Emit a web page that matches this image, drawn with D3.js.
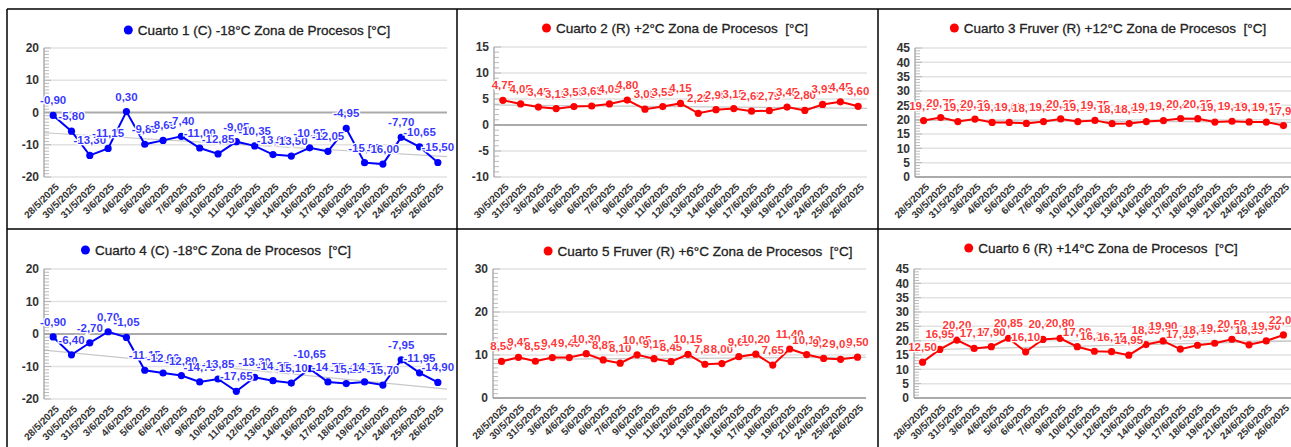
<!DOCTYPE html>
<html>
<head>
<meta charset="utf-8">
<script src="https://cdn.jsdelivr.net/npm/d3@7"></script>
<style>
body { margin: 0; background: #fff; }
svg { display: block; font-family: "Liberation Sans", Arial, sans-serif; }
</style>
</head>
<body>
<svg id="chart" width="1291" height="447"></svg>
<script>
// fechas de medicion
var dates22 = ["28/5/2025", "30/5/2025", "31/5/2025", "3/6/2025", "4/6/2025", "5/6/2025", "6/6/2025",
    "7/6/2025", "9/6/2025", "10/6/2025", "11/6/2025", "12/6/2025", "13/6/2025", "14/6/2025", "16/6/2025",
    "17/6/2025", "18/6/2025", "19/6/2025", "21/6/2025", "24/6/2025", "25/6/2025", "26/6/2025"];
var dates21 = ["30/5/2025", "31/5/2025", "3/6/2025", "4/6/2025", "5/6/2025", "6/6/2025", "7/6/2025",
    "9/6/2025", "10/6/2025", "11/6/2025", "12/6/2025", "13/6/2025", "14/6/2025", "16/6/2025",
    "17/6/2025", "18/6/2025", "19/6/2025", "21/6/2025", "24/6/2025", "25/6/2025", "26/6/2025"];

// temperaturas por cuarto
var cuarto1 = [-0.90, -5.80, -13.30, -11.15, 0.30, -9.85, -8.65, -7.40, -11.00, -12.85, -9.05,
    -10.35, -13.05, -13.50, -10.95, -12.05, -4.95, -15.55, -16.00, -7.70, -10.65, -15.50];
var cuarto2 = [4.75, 4.05, 3.45, 3.15, 3.55, 3.65, 4.05, 4.80, 3.05, 3.55, 4.15,
    2.25, 2.95, 3.15, 2.65, 2.75, 3.45, 2.80, 3.95, 4.45, 3.60];
var cuarto3 = [19.70, 20.75, 19.35, 20.20, 19.05, 19.05, 18.70, 19.35, 20.25, 19.35, 19.75,
    18.60, 18.65, 19.35, 19.70, 20.40, 20.35, 19.15, 19.45, 19.20, 19.15, 17.95];
var cuarto4 = [-0.90, -6.40, -2.70, 0.70, -1.05, -11.15, -12.00, -12.80, -14.75, -13.85, -17.65,
    -13.30, -14.35, -15.10, -10.65, -14.75, -15.25, -14.75, -15.70, -7.95, -11.95, -14.90];
var cuarto5 = [8.50, 9.45, 8.55, 9.40, 9.40, 10.30, 8.85, 8.10, 10.05, 9.15, 8.45,
    10.15, 7.85, 8.00, 9.60, 10.20, 7.65, 11.40, 10.10, 9.20, 9.00, 9.50];
var cuarto6 = [12.50, 16.95, 20.20, 17.30, 17.90, 20.85, 16.10, 20.45, 20.80, 17.90, 16.30,
    16.15, 14.95, 18.65, 19.90, 17.05, 18.40, 19.10, 20.50, 18.55, 19.90, 22.00];

var titles = ["Cuarto 1 (C) -18°C Zona de Procesos [°C]",
    "Cuarto 2 (R) +2°C Zona de Procesos  [°C]",
    "Cuarto 3 Fruver (R) +12°C Zona de Procesos  [°C]",
    "Cuarto 4 (C) -18°C Zona de Procesos  [°C]",
    "Cuarto 5 Fruver (R) +6°C Zona de Procesos  [°C]",
    "Cuarto 6 (R) +14°C Zona de Procesos  [°C]"];
var yDomains = [[-20, 20], [-10, 15], [0, 45], [-20, 20], [0, 30], [0, 45]];
var yStep = [10, 5, 5, 10, 10, 5];

var blue = "#0000ff", red = "#ff0000";

var panels = [
    { dates: dates22, values: cuarto1, color: blue },
    { dates: dates21, values: cuarto2, color: red },
    { dates: dates22, values: cuarto3, color: red },
    { dates: dates22, values: cuarto4, color: blue },
    { dates: dates22, values: cuarto5, color: red },
    { dates: dates22, values: cuarto6, color: red }
];

// posicion de cada grafica en la pagina
var layout = [
    { left: 44, right: 447, top: 48, bottom: 177, titleX: 257, titleY: 30 },
    { left: 494, right: 867, top: 47, bottom: 177, titleX: 675, titleY: 28 },
    { left: 915, right: 1292, top: 48, bottom: 177, titleX: 1108, titleY: 28 },
    { left: 44, right: 447, top: 269, bottom: 399, titleX: 216, titleY: 250 },
    { left: 493, right: 866, top: 269, bottom: 398, titleX: 698, titleY: 251 },
    { left: 914, right: 1292, top: 269, bottom: 398, titleX: 1101, titleY: 248 }
];

var esCO = d3.formatLocale({ decimal: ",", thousands: ".", grouping: [3], currency: ["$", ""], minus: "-" });
var fmt = esCO.format(".2f");

var svg = d3.select("#chart");

// marco de la tabla
var frame = svg.append("g").attr("stroke", "#000").attr("stroke-width", 1.5);
frame.append("line").attr("x1", 7).attr("x2", 1291).attr("y1", 9).attr("y2", 9);
frame.append("line").attr("x1", 7).attr("x2", 1291).attr("y1", 229).attr("y2", 229);
[7, 457, 878].forEach(function (x) {
    frame.append("line").attr("x1", x).attr("x2", x).attr("y1", 9).attr("y2", 447);
});

var drawPanel = function (i) {
    var p = panels[i], L = layout[i];
    var g = svg.append("g");

    var x = d3.scalePoint().domain(p.dates).range([L.left, L.right]).padding(0.5);
    var y = d3.scaleLinear().domain(yDomains[i]).range([L.bottom, L.top]);
    var majors = d3.range(yDomains[i][0], yDomains[i][1] + 0.001, yStep[i]);
    var minors = d3.range(yDomains[i][0], yDomains[i][1] + 0.001, 1);

    // grid
    g.selectAll(".grid").data(majors).enter().append("line")
        .attr("x1", L.left).attr("x2", L.right)
        .attr("y1", function (d) { return y(d); }).attr("y2", function (d) { return y(d); })
        .attr("stroke", function (d) { return d === 0 ? "#aaa" : "#e2e2e2"; })
        .attr("stroke-width", function (d) { return d === 0 ? 2 : 1.5; });

    // tendencia lineal
    var n = p.values.length;
    var mx = d3.mean(p.values, function (v, k) { return k; }), my = d3.mean(p.values);
    var sxy = d3.sum(p.values, function (v, k) { return (k - mx) * (v - my); });
    var sxx = d3.sum(p.values, function (v, k) { return (k - mx) * (k - mx); });
    var slope = sxy / sxx, icpt = my - slope * mx;
    g.append("line")
        .attr("x1", L.left).attr("x2", L.right)
        .attr("y1", y(icpt + slope * (-0.5))).attr("y2", y(icpt + slope * (n - 0.5)))
        .attr("stroke", "#c8c8c8").attr("stroke-width", 1.2);

    // eje y
    g.append("line").attr("x1", L.left).attr("x2", L.left)
        .attr("y1", L.top).attr("y2", L.bottom).attr("stroke", "#999").attr("stroke-width", 1.2);
    g.selectAll(".minor").data(minors).enter().append("line")
        .attr("x1", L.left).attr("x2", function (d) { return L.left + (d % yStep[i] === 0 ? 7 : 5); })
        .attr("y1", function (d) { return y(d); }).attr("y2", function (d) { return y(d); })
        .attr("stroke", "#aaa").attr("stroke-width", 0.8);
    g.selectAll(".ylab").data(majors).enter().append("text")
        .attr("x", L.left - 5).attr("y", function (d) { return y(d); })
        .attr("dy", "0.35em").attr("text-anchor", "end")
        .style("font-size", "12px").style("font-weight", "bold").style("fill", "#333")
        .text(function (d) { return d; });

    // eje x
    g.selectAll(".xlab").data(p.dates).enter().append("text")
        .attr("transform", function (d) { return "translate(" + (x(d) + 4) + "," + (L.bottom + 8) + ") rotate(-45)"; })
        .attr("text-anchor", "end").attr("dy", "0.35em")
        .style("font-size", "10px").style("font-weight", "bold").style("fill", "#333")
        .text(function (d) { return d; });

    // serie
    var line = d3.line()
        .x(function (v, k) { return x(p.dates[k]); })
        .y(function (v) { return y(v); });
    g.append("path").datum(p.values).attr("d", line)
        .attr("fill", "none").attr("stroke", p.color).attr("stroke-width", 2);
    g.selectAll(".pt").data(p.values).enter().append("circle")
        .attr("cx", function (v, k) { return x(p.dates[k]); })
        .attr("cy", function (v) { return y(v); })
        .attr("r", 3.6).attr("fill", p.color);

    g.selectAll(".val").data(p.values).enter().append("text")
        .attr("x", function (v, k) { return x(p.dates[k]); })
        .attr("y", function (v) { return y(v) - 11; })
        .attr("text-anchor", "middle")
        .style("font-size", "11.5px").style("font-weight", "bold")
        .style("fill", p.color).style("fill-opacity", 0.8)
        .style("stroke", "#fff").style("stroke-width", 2.5).style("paint-order", "stroke")
        .text(function (v) { return fmt(v); });

    // titulo / leyenda
    var tg = g.append("g");
    var tt = tg.append("text").attr("y", L.titleY).attr("dy", "0.35em")
        .style("font-size", "13.5px").style("fill", "#222").style("white-space", "pre")
        .style("stroke", "#222").style("stroke-width", 0.3)
        .text(titles[i]);
    var w = tt.node().getComputedTextLength();
    var x0 = L.titleX - (w + 14) / 2;
    tg.append("circle").attr("cx", x0 + 4.5).attr("cy", L.titleY).attr("r", 4.5).attr("fill", p.color);
    tt.attr("x", x0 + 14);
};

d3.range(panels.length).forEach(drawPanel);
</script>
</body>
</html>
